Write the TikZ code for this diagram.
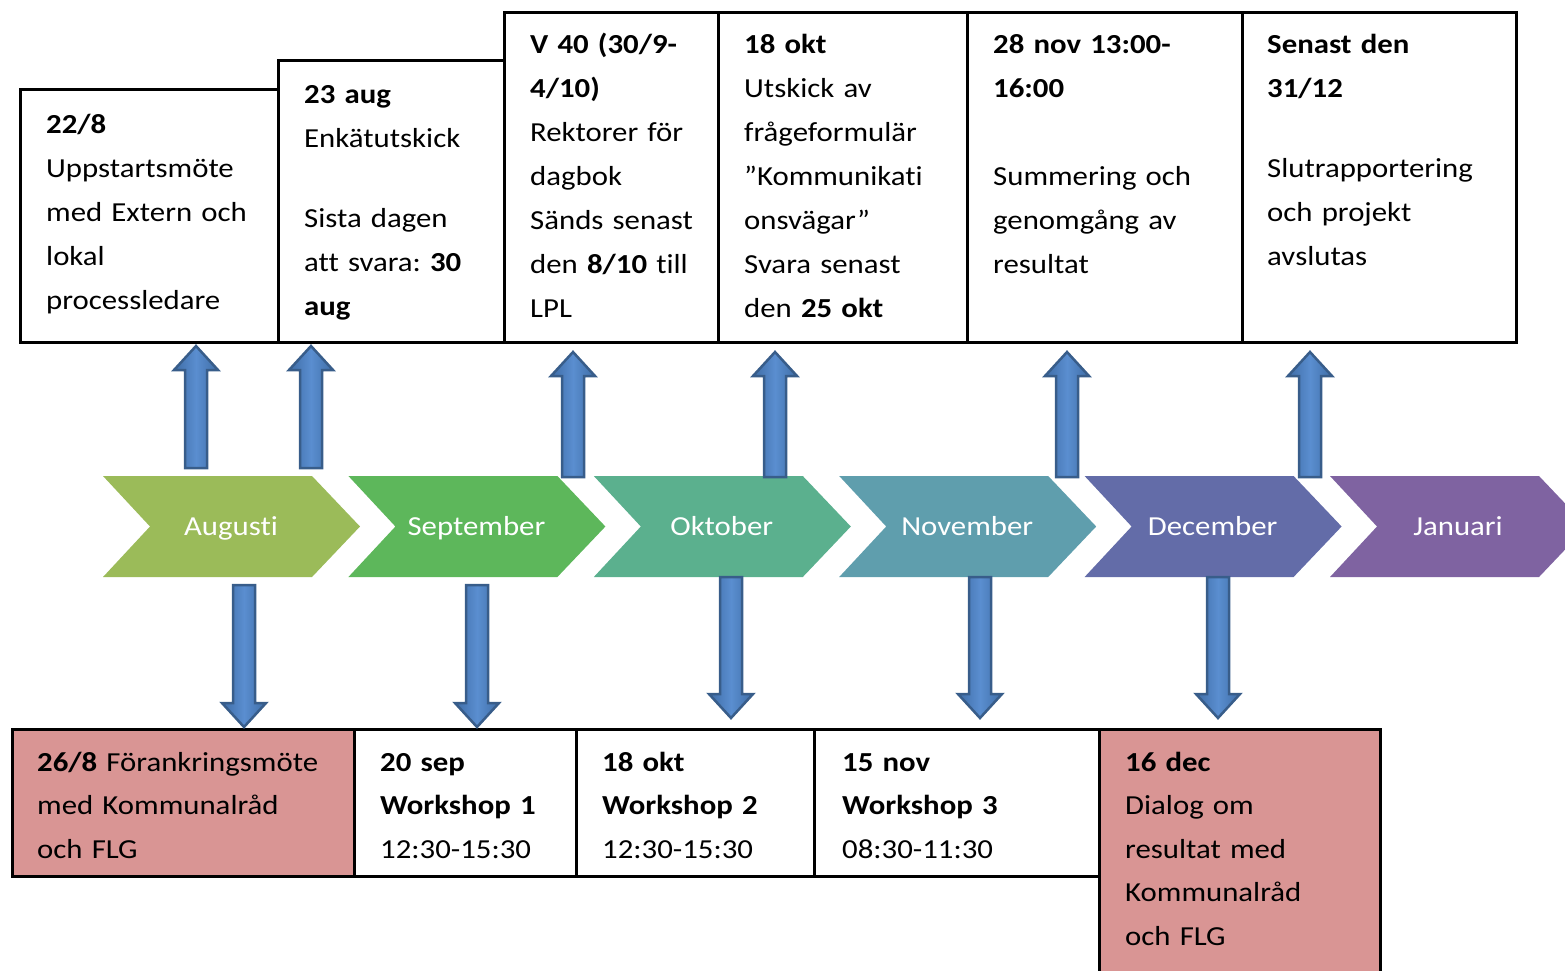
\documentclass[tikz,border=0pt]{standalone}
\usepackage{fontspec}
\setmainfont{Carlito}[FakeStretch=1.12, Ligatures=NoCommon]
\usetikzlibrary{calc}
\frenchspacing
\definecolor{pinkf}{HTML}{D99594}
\definecolor{cAug}{HTML}{9BBB59}
\definecolor{cSep}{HTML}{5DB75B}
\definecolor{cOkt}{HTML}{5BB08E}
\definecolor{cNov}{HTML}{5F9EAD}
\definecolor{cDec}{HTML}{636CA8}
\definecolor{cJan}{HTML}{7F63A1}
\definecolor{arrA}{HTML}{3F6DA6}
\definecolor{arrB}{HTML}{5A8ED0}
\definecolor{arrD}{HTML}{385D8A}
\newcommand\blockarr[2]{%
  \path[blockarrow] let \p1=(#1), \p2=(#2), \n1={sign(\y2-\y1)} in
    ({\x1-11pt},\y1) -- ({\x1-11pt},{\y2-\n1*24pt}) -- ({\x1-22pt},{\y2-\n1*24pt})
    -- (\x2,\y2) -- ({\x1+22pt},{\y2-\n1*24pt}) -- ({\x1+11pt},{\y2-\n1*24pt})
    -- ({\x1+11pt},\y1) -- cycle;}
\newcommand\chevshape[2]{%
  \fill[#2] (#1,476) -- (#1+209,476) -- (#1+257,526.5) -- (#1+209,577) -- (#1,577) -- (#1+47,526.5) -- cycle;}
\begin{document}
\begin{tikzpicture}[x=1pt,y=-1pt,
  tbox/.style={draw=black, line width=3pt, anchor=north west, inner sep=0pt, fill=white},
  pbox/.style={tbox, fill=pinkf},
  ttext/.style={anchor=north west, inner sep=0pt, text width=320pt, align=left,
    font=\fontsize{27.5}{44}\selectfont},
  btext/.style={ttext, font=\fontsize{27.5}{43.5}\selectfont},
  mlabel/.style={anchor=base, inner sep=0pt, text=white, font=\fontsize{27.5}{33}\selectfont},
  blockarrow/.style={left color=arrA, right color=arrA, middle color=arrB, draw=arrD, line width=2.5pt, line join=miter}
]
\useasboundingbox (0,0) rectangle (1565,970);

% ---------- top boxes ----------
\node[tbox, minimum width=258pt, minimum height=253pt] (t1) at (19,88) {};
\node[tbox, minimum width=226pt, minimum height=282pt] (t2) at (277,59) {};
\node[tbox, minimum width=214pt, minimum height=330pt] (t3) at (503,11) {};
\node[tbox, minimum width=249pt, minimum height=330pt] (t4) at (717,11) {};
\node[tbox, minimum width=275pt, minimum height=330pt] (t5) at (966,11) {};
\node[tbox, minimum width=274pt, minimum height=330pt] (t6) at (1241,11) {};

\node[ttext] (t1x) at (46,102.2) {\strut\textbf{22/8}\\Uppstartsmöte\\med Extern och\\lokal\\processledare};
\node[ttext] (t2x) at (304,72.2) {\strut\textbf{23 aug}\\Enkätutskick\\[36pt]Sista dagen\\att svara: \textbf{30}\\\textbf{aug}};
\node[ttext] (t3x) at (530,22.2) {\strut\textbf{V 40 (30/9-}\\\textbf{4/10)}\\Rektorer för\\dagbok\\Sänds senast\\den \textbf{8/10} till\\LPL};
\node[ttext] (t4x) at (744,22.2) {\strut\textbf{18 okt}\\Utskick av\\frågeformulär\\”Kommunikati\\onsvägar”\\Svara senast\\den \textbf{25 okt}};
\node[ttext] (t5x) at (993,22.2) {\strut\textbf{28 nov 13:00-}\\\textbf{16:00}\\[44pt]Summering och\\genomgång av\\resultat};
\node[ttext] (t6x) at (1267,22.2) {\strut\textbf{Senast den}\\\textbf{31/12}\\[36pt]Slutrapportering\\och projekt\\avslutas};

% ---------- bottom boxes ----------
\node[pbox, minimum width=342pt, minimum height=147pt] (b1) at (11,728) {};
\node[tbox, minimum width=222pt, minimum height=147pt] (b2) at (353,728) {};
\node[tbox, minimum width=238pt, minimum height=147pt] (b3) at (575,728) {};
\node[tbox, minimum width=285pt, minimum height=147pt] (b4) at (813,728) {};
\node[pbox, minimum width=281pt, minimum height=262pt] (b5) at (1098,728) {};

\node[btext] (b1x) at (37,740.55) {\strut\textbf{26/8} Förankringsmöte\\med Kommunalråd\\och FLG};
\node[btext] (b2x) at (380,740.55) {\strut\textbf{20 sep}\\\textbf{Workshop 1}\\12:30-15:30};
\node[btext] (b3x) at (602,740.55) {\strut\textbf{18 okt}\\\textbf{Workshop 2}\\12:30-15:30};
\node[btext] (b4x) at (842,740.55) {\strut\textbf{15 nov}\\\textbf{Workshop 3}\\08:30-11:30};
\node[btext] (b5x) at (1125,740.55) {\strut\textbf{16 dec}\\Dialog om\\resultat med\\Kommunalråd\\och FLG};

% ---------- chevrons ----------
\chevshape{103}{cAug}
\chevshape{348.4}{cSep}
\chevshape{593.8}{cOkt}
\chevshape{839.2}{cNov}
\chevshape{1084.6}{cDec}
\chevshape{1330}{cJan}
\node[mlabel] (aug) at (231,535) {Augusti};
\node[mlabel] (sep) at (476.4,535) {September};
\node[mlabel] (okt) at (721.8,535) {Oktober};
\node[mlabel] (nov) at (967.2,535) {November};
\node[mlabel] (dec) at (1212.6,535) {December};
\node[mlabel] (jan) at (1458,535) {Januari};

% ---------- arrows ----------
\coordinate (ua1) at (196,468);  \coordinate (ub1) at (196,346);
\coordinate (ua2) at (311,468);  \coordinate (ub2) at (311,346);
\coordinate (ua3) at (573,477);  \coordinate (ub3) at (573,352);
\coordinate (ua4) at (775,477);  \coordinate (ub4) at (775,352);
\coordinate (ua5) at (1067,477); \coordinate (ub5) at (1067,352);
\coordinate (ua6) at (1310,477); \coordinate (ub6) at (1310,352);
\coordinate (da1) at (244,585);  \coordinate (db1) at (244,727);
\coordinate (da2) at (477,585);  \coordinate (db2) at (477,727);
\coordinate (da3) at (731,577);  \coordinate (db3) at (731,718);
\coordinate (da4) at (980,577);  \coordinate (db4) at (980,718);
\coordinate (da5) at (1218,577); \coordinate (db5) at (1218,718);
\blockarr{ua1}{ub1}
\blockarr{ua2}{ub2}
\blockarr{ua3}{ub3}
\blockarr{ua4}{ub4}
\blockarr{ua5}{ub5}
\blockarr{ua6}{ub6}
\blockarr{da1}{db1}
\blockarr{da2}{db2}
\blockarr{da3}{db3}
\blockarr{da4}{db4}
\blockarr{da5}{db5}
\end{tikzpicture}
\end{document}
